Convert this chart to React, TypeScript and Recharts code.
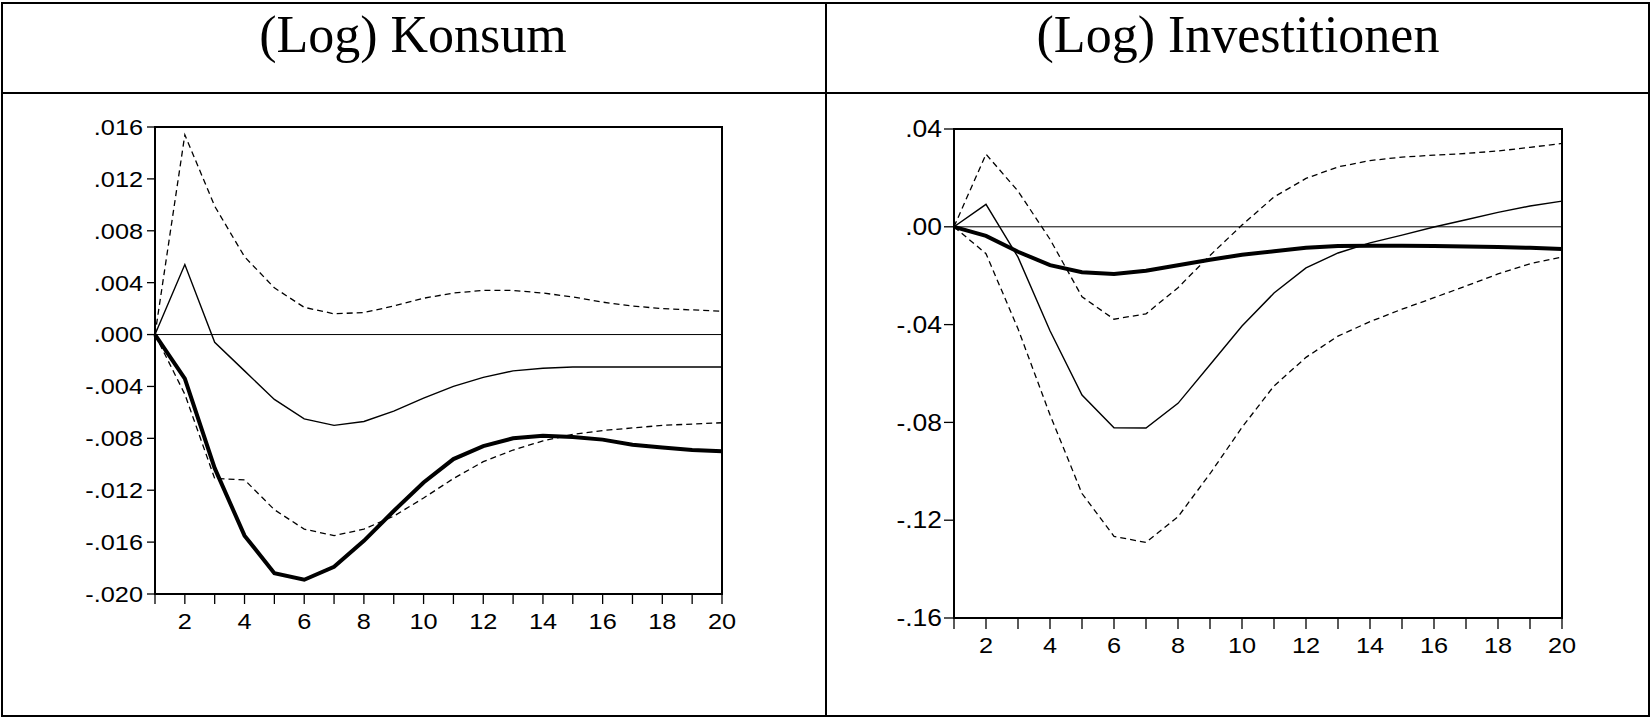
import React from 'react';
import {
  LineChart,
  Line,
  XAxis,
  YAxis,
  ReferenceLine,
  ReferenceArea,
} from 'recharts';

// periods after the shock
const periods = [1, 2, 3, 4, 5, 6, 7, 8, 9, 10, 11, 12, 13, 14, 15, 16, 17, 18, 19, 20];

// (Log) Konsum
const konsumUpper = [0, 0.0154, 0.0099, 0.006, 0.0036, 0.0021, 0.0016, 0.0017, 0.0022, 0.0028, 0.0032, 0.0034, 0.0034, 0.0032, 0.0029, 0.0025, 0.0022, 0.002, 0.0019, 0.0018];
const konsumMid = [0, 0.0054, -0.0006, -0.0028, -0.005, -0.0065, -0.007, -0.0067, -0.0059, -0.0049, -0.004, -0.0033, -0.0028, -0.0026, -0.0025, -0.0025, -0.0025, -0.0025, -0.0025, -0.0025];
const konsumLower = [0, -0.0046, -0.0111, -0.0112, -0.0135, -0.015, -0.0155, -0.015, -0.014, -0.0126, -0.0111, -0.0098, -0.0089, -0.0082, -0.0077, -0.0074, -0.0072, -0.007, -0.0069, -0.0068];
const konsumThick = [0, -0.0034, -0.0103, -0.0155, -0.0184, -0.0189, -0.0179, -0.0159, -0.0136, -0.0114, -0.0096, -0.0086, -0.008, -0.0078, -0.0079, -0.0081, -0.0085, -0.0087, -0.0089, -0.009];
const konsumTicks = [-0.02, -0.016, -0.012, -0.008, -0.004, 0, 0.004, 0.008, 0.012, 0.016];

// (Log) Investitionen
const invUpper = [0, 0.0297, 0.0146, -0.0051, -0.0286, -0.0378, -0.0356, -0.0249, -0.0117, 0.0007, 0.0122, 0.0198, 0.0245, 0.0271, 0.0285, 0.0293, 0.03, 0.031, 0.0325, 0.0341];
const invMid = [0, 0.0092, -0.0124, -0.0425, -0.0688, -0.0822, -0.0823, -0.0722, -0.0564, -0.0406, -0.0271, -0.0168, -0.0107, -0.0066, -0.0034, -0.0001, 0.0029, 0.0059, 0.0085, 0.0105];
const invLower = [0, -0.011, -0.0417, -0.0769, -0.1091, -0.1266, -0.1291, -0.1186, -0.101, -0.082, -0.0651, -0.0534, -0.0447, -0.0388, -0.0337, -0.029, -0.0242, -0.0193, -0.0151, -0.0124];
const invThick = [0, -0.0037, -0.0102, -0.0157, -0.0186, -0.0193, -0.018, -0.0157, -0.0135, -0.0114, -0.01, -0.0086, -0.0079, -0.0078, -0.0078, -0.0079, -0.0081, -0.0083, -0.0086, -0.0091];
const invTicks = [-0.16, -0.12, -0.08, -0.04, 0, 0.04];

const titles = ['(Log) Konsum', '(Log) Investitionen'];

const build = (u: number[], m: number[], l: number[], k: number[]) =>
  periods.map((t, i) => ({ t, upper: u[i], mid: m[i], lower: l[i], thick: k[i] }));

const fmt = (digits: number) => (v: number) => {
  const s = Math.abs(v).toFixed(digits).replace(/^0/, '');
  return v < -1e-9 ? '-' + s : s;
};

const FONT = '"Liberation Sans", Arial, sans-serif';

const XTick = (props: any) => {
  const { x, y, payload, fs } = props;
  if (payload.value % 2 !== 0) return <g />;
  return (
    <g transform={`translate(${x},${y})`}>
      <text transform="scale(1.15,1)" textAnchor="middle" dy="0.72em" fontSize={fs} fontFamily={FONT} fill="#000">
        {payload.value}
      </text>
    </g>
  );
};

const YTick = (props: any) => {
  const { x, y, payload, fs, digits } = props;
  return (
    <g transform={`translate(${x},${y})`}>
      <text transform="scale(1.15,1)" textAnchor="end" dy="0.36em" fontSize={fs} fontFamily={FONT} fill="#000">
        {fmt(digits)(payload.value)}
      </text>
    </g>
  );
};

interface PanelProps {
  data: any[];
  ticks: number[];
  digits: number;
  left: number;
  width: number;
  margin: { top: number; right: number; bottom: number; left: number };
  yTickSize: number;
  yTickMargin: number;
  xTickMargin: number;
  xTickSize: number;
  yFont: number;
}

const Panel: React.FC<PanelProps> = ({ data, ticks, digits, left, width, margin, yTickSize, yTickMargin, xTickMargin, xTickSize, yFont }) => {
  const lo = ticks[0];
  const hi = ticks[ticks.length - 1];
  return (
    <div style={{ position: 'absolute', left, top: 94, width, height: 620 }}>
      <LineChart width={width} height={620} data={data} margin={margin}>
        <XAxis
          type="number"
          dataKey="t"
          domain={[1, 20]}
          ticks={periods}
          interval={0}
          height={50}
          tickSize={xTickSize}
          tickMargin={xTickMargin}
          axisLine={{ stroke: '#000', strokeWidth: 2 }}
          tickLine={{ stroke: '#000', strokeWidth: 1.3 }}
          tick={<XTick fs={22} />}
        />
        <YAxis
          type="number"
          domain={[lo, hi]}
          ticks={ticks}
          interval={0}
          width={80}
          tickSize={yTickSize}
          tickMargin={yTickMargin}
          axisLine={{ stroke: '#000', strokeWidth: 2 }}
          tickLine={{ stroke: '#000', strokeWidth: 1.3 }}
          tick={<YTick fs={yFont} digits={digits} />}
        />
        <ReferenceArea x1={1} x2={20} y1={lo} y2={hi} fill="none" stroke="#000" strokeWidth={2} />
        <ReferenceLine y={0} stroke="#000" strokeWidth={1} />
        <Line type="linear" dataKey="upper" stroke="#000" strokeWidth={1.3} strokeDasharray="6 4" dot={false} isAnimationActive={false} />
        <Line type="linear" dataKey="lower" stroke="#000" strokeWidth={1.3} strokeDasharray="6 4" dot={false} isAnimationActive={false} />
        <Line type="linear" dataKey="mid" stroke="#000" strokeWidth={1.4} dot={false} isAnimationActive={false} />
        <Line type="linear" dataKey="thick" stroke="#000" strokeWidth={4} dot={false} isAnimationActive={false} />
      </LineChart>
    </div>
  );
};

export default function App() {
  const konsumData = build(konsumUpper, konsumMid, konsumLower, konsumThick);
  const invData = build(invUpper, invMid, invLower, invThick);

  return (
    <div style={{ position: 'absolute', left: 0, top: 0, width: 1650, height: 717, background: '#fff' }}>
      <svg width={1650} height={717} style={{ position: 'absolute', left: 0, top: 0 }}>
        <rect x={2} y={3} width={1647} height={713} fill="none" stroke="#000" strokeWidth={2} />
        <line x1={826} y1={2} x2={826} y2={717} stroke="#000" strokeWidth={2} />
        <line x1={1} y1={93} x2={1650} y2={93} stroke="#000" strokeWidth={2} />
        <text x={413} y={52} textAnchor="middle" fontSize={52} fontFamily='"Liberation Serif", "Times New Roman", serif' fill="#000">
          {titles[0]}
        </text>
        <text x={1238} y={52} textAnchor="middle" fontSize={52} fontFamily='"Liberation Serif", "Times New Roman", serif' fill="#000">
          {titles[1]}
        </text>
      </svg>
      <Panel
        data={konsumData}
        ticks={konsumTicks}
        digits={3}
        left={0}
        width={826}
        margin={{ top: 33, right: 104, bottom: 70, left: 75 }}
        yTickSize={8}
        yTickMargin={4}
        xTickSize={10}
        xTickMargin={9}
        yFont={22}
      />
      <Panel
        data={invData}
        ticks={invTicks}
        digits={2}
        left={826}
        width={824}
        margin={{ top: 35, right: 88, bottom: 46, left: 48 }}
        yTickSize={10}
        yTickMargin={2}
        xTickSize={11}
        xTickMargin={8}
        yFont={23}
      />
    </div>
  );
}
